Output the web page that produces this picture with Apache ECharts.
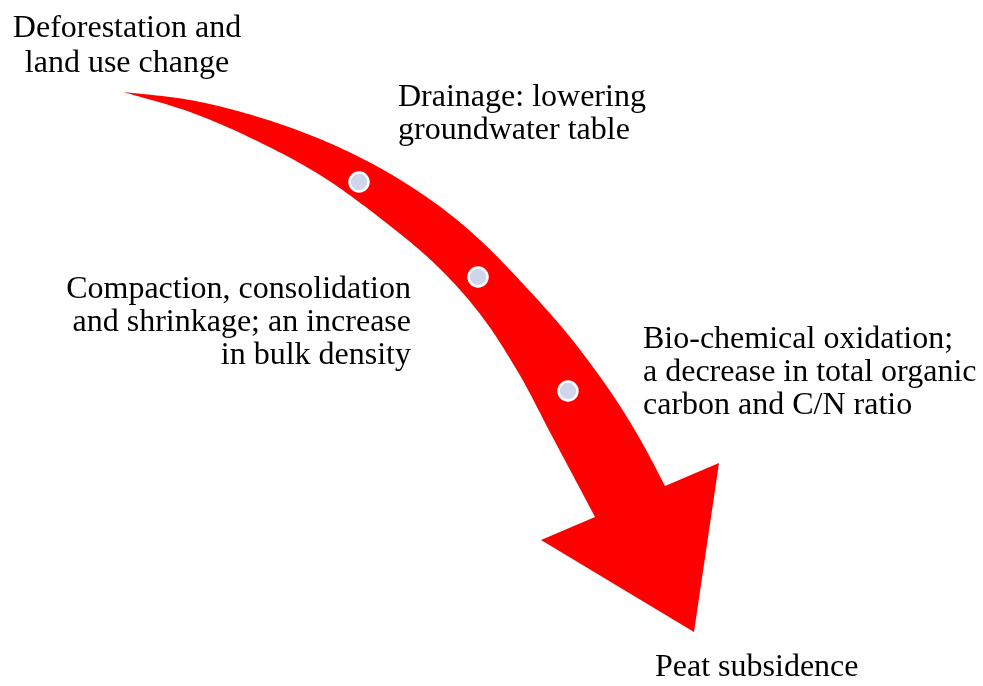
<!DOCTYPE html>
<html>
<head>
<meta charset="utf-8">
<script src="https://cdn.jsdelivr.net/npm/echarts@6/dist/echarts.min.js"></script>
<style>
html,body{margin:0;padding:0;background:#fff;}
#main{width:983px;height:686px;}
</style>
</head>
<body>
<div id="main"></div>
<script>
// Arrow outline (diagram coordinates, y downward)
var upperEdgeX = [123, 190, 255, 320, 380, 435, 480, 525, 570, 610, 640, 665];
var upperEdgeY = [92, 100, 116, 139, 168, 203, 240, 286, 337, 391, 439, 486];
var headX = [719, 694, 541];
var headY = [463, 632, 540];
var lowerEdgeX = [595, 552, 518, 480, 435, 380, 320, 255, 190];
var lowerEdgeY = [517, 436, 372, 314, 264, 218, 175, 140, 112];

// Stage markers on the arrow
var markerX = [359, 478, 568];
var markerY = [182, 277, 391];

// Text blocks
var labelTexts = [
  'Deforestation and\nland use change',
  'Drainage: lowering\ngroundwater table',
  'Compaction, consolidation\nand shrinkage; an increase\nin bulk density',
  'Bio-chemical oxidation;\na decrease in total organic\ncarbon and C/N ratio',
  'Peat subsidence'
];
var labelX = [127, 398, 411, 643, 655];
var labelY = [11, 81, 273, 323, 651];
var labelAlign = ['center', 'left', 'right', 'left', 'left'];

// Catmull-Rom smoothing of a pixel polyline (drawing only)
function smoothPath(pts, steps) {
  var out = [];
  for (var i = 0; i < pts.length - 1; i++) {
    var p0 = pts[Math.max(0, i - 1)], p1 = pts[i], p2 = pts[i + 1], p3 = pts[Math.min(pts.length - 1, i + 2)];
    for (var s = 0; s < steps; s++) {
      var t = s / steps, t2 = t * t, t3 = t2 * t;
      var pt = [0, 1].map(function (d) {
        return 0.5 * ((2 * p1[d]) + (-p0[d] + p2[d]) * t +
          (2 * p0[d] - 5 * p1[d] + 4 * p2[d] - p3[d]) * t2 +
          (-p0[d] + 3 * p1[d] - 3 * p2[d] + p3[d]) * t3);
      });
      out.push(pt);
    }
  }
  out.push(pts[pts.length - 1]);
  return out;
}

var markers = markerX.map(function (x, i) { return [x, markerY[i]]; });
var labels = labelTexts.map(function (t, i) {
  return {
    value: [labelX[i], labelY[i]],
    label: { formatter: t, align: labelAlign[i], lineHeight: i === 0 ? 35 : 33 }
  };
});

var chart = echarts.init(document.getElementById('main'));
var FONT = '"Palatino Linotype", "Book Antiqua", Palatino, "Liberation Serif", serif';
chart.setOption({
  animation: false,
  backgroundColor: '#ffffff',
  grid: { left: 0, right: 0, top: 0, bottom: 0 },
  xAxis: { type: 'value', min: 0, max: 983, show: false },
  yAxis: { type: 'value', min: 0, max: 686, inverse: true, show: false },
  series: [
    {
      type: 'custom',
      data: [0],
      renderItem: function (params, api) {
        var up = upperEdgeX.map(function (x, i) { return api.coord([x, upperEdgeY[i]]); });
        var head = headX.map(function (x, i) { return api.coord([x, headY[i]]); });
        var low = lowerEdgeX.map(function (x, i) { return api.coord([x, lowerEdgeY[i]]); });
        low.push(up[0]);
        var pts = smoothPath(up, 20).concat(head).concat(smoothPath(low, 20));
        return {
          type: 'polygon',
          shape: { points: pts },
          style: { fill: '#ff0000', stroke: null }
        };
      },
      silent: true,
      z: 1
    },
    {
      type: 'scatter',
      data: markers,
      symbol: 'circle',
      symbolSize: 19,
      itemStyle: { color: '#cfd5ea', borderColor: '#ffffff', borderWidth: 2.5, opacity: 1 },
      silent: true,
      z: 2
    },
    {
      type: 'scatter',
      data: labels,
      symbolSize: 0,
      silent: true,
      itemStyle: { opacity: 1 },
      label: {
        show: true,
        position: [0, 0],
        verticalAlign: 'top',
        color: '#000000',
        opacity: 1,
        fontFamily: FONT,
        fontSize: 32,
        lineHeight: 33
      },
      z: 3
    }
  ]
});
</script>
</body>
</html>
